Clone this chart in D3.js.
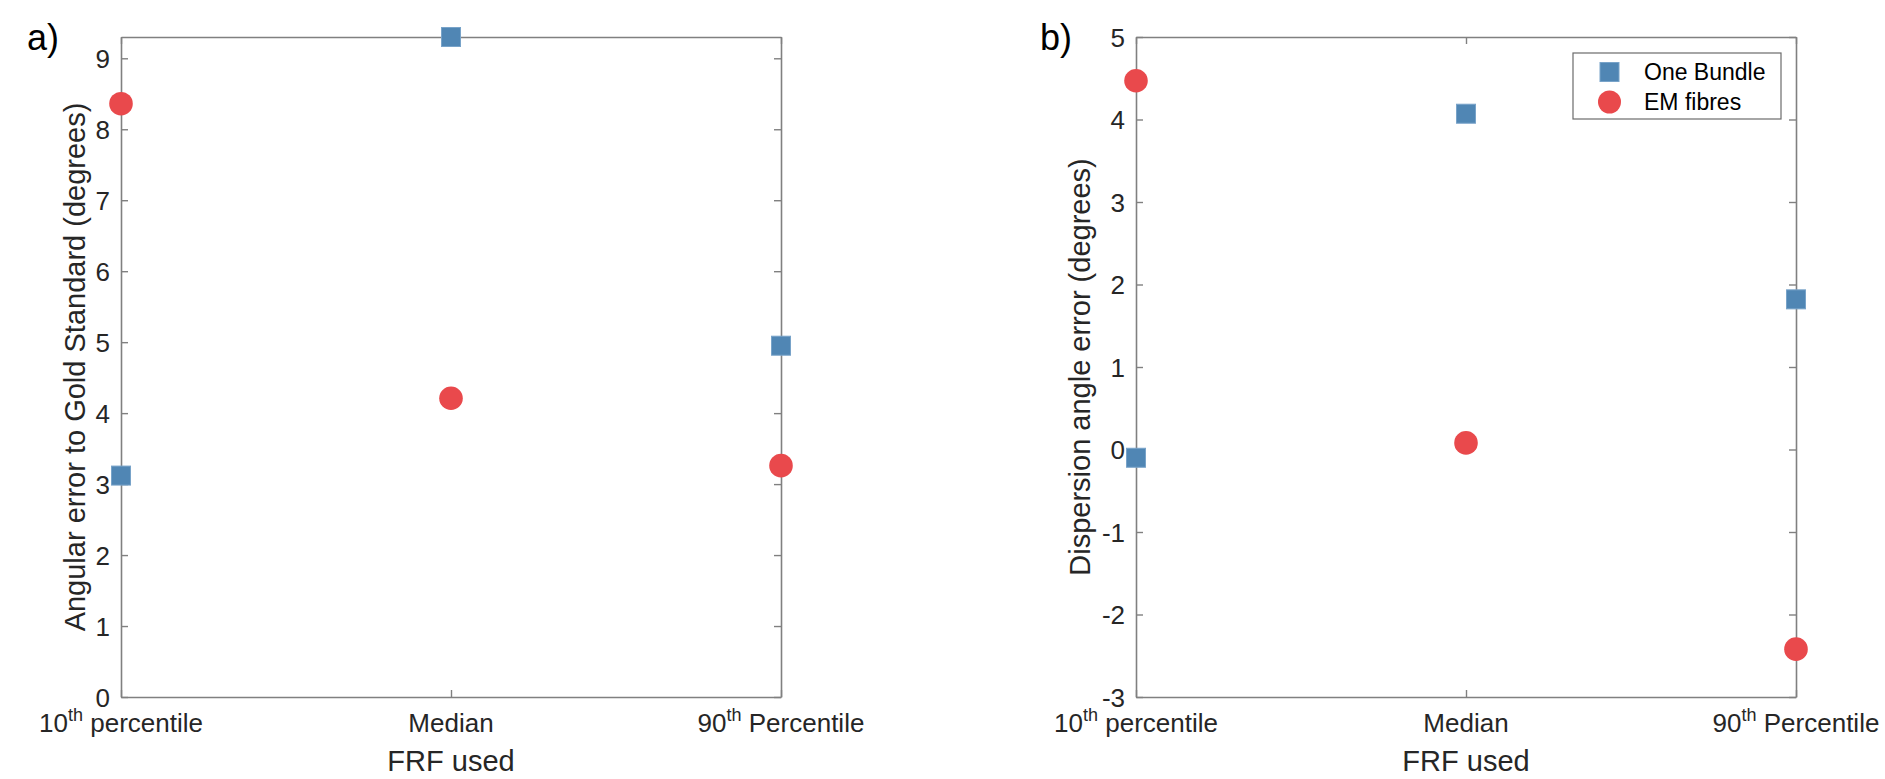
<!DOCTYPE html>
<html>
<head>
<meta charset="utf-8">
<script src="https://cdn.jsdelivr.net/npm/d3@7"></script>
<style>
  body { margin: 0; background: #fff; }
  svg { display: block; font-family: "Liberation Sans", Arial, Helvetica, sans-serif; }
</style>
</head>
<body>
<svg id="chart"></svg>
<script>
// data
const categories = ["10th percentile", "Median", "90th Percentile"];
const seriesNames = ["One Bundle", "EM fibres"];

const angularOneBundle = [3.12, 9.30, 4.95];
const angularEMFibres = [8.36, 4.21, 3.26];
const angularTicks = [0, 1, 2, 3, 4, 5, 6, 7, 8, 9];

const dispersionOneBundle = [-0.10, 4.07, 1.82];
const dispersionEMFibres = [4.47, 0.08, -2.42];
const dispersionTicks = [-3, -2, -1, 0, 1, 2, 3, 4, 5];

var svgWidth = 1885;
var svgHeight = 779;
var blue = "#5086b4";
var red = "#e9494c";
var axisColor = "#808080";
var textColor = "#262626";
var tickFont = 26;
var labelFont = 29;

var svg = d3.select("#chart")
  .attr("width", svgWidth)
  .attr("height", svgHeight);

function drawPanel(opts) {
  var left = opts.left, right = opts.right, top = 37, bottom = 697;

  var x = d3.scalePoint()
    .domain(categories)
    .range([left, right])
    .padding(0);

  var y = d3.scaleLinear()
    .domain(opts.domain)
    .range([bottom, top]);

  var g = svg.append("g");

  // left axis with labels, ticks pointing inward (plain hyphen minus like the original)
  var yAxis = g.append("g")
    .attr("transform", "translate(" + left + ",0)")
    .call(d3.axisLeft(y).tickValues(opts.ticks).tickFormat(function (d) { return String(d); })
      .tickSizeInner(-7).tickSizeOuter(0).tickPadding(11));

  // right, top, bottom: ticks only
  var yAxisR = g.append("g")
    .attr("transform", "translate(" + right + ",0)")
    .call(d3.axisRight(y).tickValues(opts.ticks).tickSizeInner(-7).tickSizeOuter(0).tickFormat(""));

  var xAxisB = g.append("g")
    .attr("transform", "translate(0," + bottom + ")")
    .call(d3.axisBottom(x).tickSizeInner(-7).tickSizeOuter(0).tickFormat(""));

  var xAxisT = g.append("g")
    .attr("transform", "translate(0," + top + ")")
    .call(d3.axisTop(x).tickSizeInner(-7).tickSizeOuter(0).tickFormat(""));

  [yAxis, yAxisR, xAxisB, xAxisT].forEach(function (a) {
    a.select(".domain").attr("stroke", axisColor).attr("stroke-width", 1.6);
    a.selectAll(".tick line").attr("stroke", axisColor).attr("stroke-width", 1.4);
    a.selectAll("text").attr("fill", textColor).style("font-size", tickFont + "px").attr("font-family", null);
  });
  yAxis.selectAll("text").attr("dy", "0.36em");

  // category labels with superscript "th"
  categories.forEach(function (c) {
    var t = g.append("text")
      .attr("x", x(c))
      .attr("y", 732)
      .attr("text-anchor", "middle")
      .attr("fill", textColor)
      .style("font-size", tickFont + "px");
    var m = c.match(/^(\d+)(th)(.*)$/);
    if (m) {
      t.append("tspan").text(m[1]);
      t.append("tspan").attr("dy", -11).style("font-size", "18px").text(m[2]);
      t.append("tspan").attr("dy", 11).text(m[3]);
    } else {
      t.text(c);
    }
  });

  g.append("text")
    .attr("x", (left + right) / 2)
    .attr("y", 771)
    .attr("text-anchor", "middle")
    .attr("fill", textColor)
    .style("font-size", labelFont + "px")
    .text("FRF used");

  g.append("text")
    .attr("transform", "translate(" + opts.labelX + "," + ((top + bottom) / 2) + ") rotate(-90)")
    .attr("text-anchor", "middle")
    .attr("fill", textColor)
    .style("font-size", labelFont + "px")
    .text(opts.yLabel);

  g.append("text")
    .attr("x", opts.letterX)
    .attr("y", 50)
    .attr("fill", "#000")
    .style("font-size", "36px")
    .text(opts.letter);

  // markers
  var sq = 19;
  g.selectAll(".sq")
    .data(opts.oneBundle)
    .enter().append("rect")
    .attr("class", "sq")
    .attr("x", function (d, i) { return x(categories[i]) - sq / 2; })
    .attr("y", function (d) { return y(d) - sq / 2; })
    .attr("width", sq)
    .attr("height", sq)
    .attr("fill", blue)
    .attr("stroke", "#78a3c9")
    .attr("stroke-width", 1);

  g.selectAll(".dot")
    .data(opts.emFibres)
    .enter().append("circle")
    .attr("class", "dot")
    .attr("cx", function (d, i) { return x(categories[i]); })
    .attr("cy", function (d) { return y(d); })
    .attr("r", 11.8)
    .attr("fill", red);

  return g;
}

drawPanel({
  left: 121, right: 781,
  domain: [0, 9.3],
  ticks: angularTicks,
  oneBundle: angularOneBundle,
  emFibres: angularEMFibres,
  yLabel: "Angular error to Gold Standard (degrees)",
  labelX: 85,
  letter: "a)",
  letterX: 27
});

drawPanel({
  left: 1136, right: 1796,
  domain: [-3, 5],
  ticks: dispersionTicks,
  oneBundle: dispersionOneBundle,
  emFibres: dispersionEMFibres,
  yLabel: "Dispersion angle error (degrees)",
  labelX: 1090,
  letter: "b)",
  letterX: 1040
});

// legend
var legend = svg.append("g");
legend.append("rect")
  .attr("x", 1573).attr("y", 53)
  .attr("width", 208).attr("height", 66)
  .attr("fill", "#fff")
  .attr("stroke", "#6b6b6b")
  .attr("stroke-width", 1.2);

seriesNames.forEach(function (name, i) {
  var cy = 72 + i * 30;
  if (i === 0) {
    legend.append("rect")
      .attr("x", 1600).attr("y", cy - 9.5)
      .attr("width", 19).attr("height", 19)
      .attr("fill", blue).attr("stroke", "#78a3c9");
  } else {
    legend.append("circle")
      .attr("cx", 1609.5).attr("cy", cy)
      .attr("r", 11.5)
      .attr("fill", red);
  }
  legend.append("text")
    .attr("x", 1644)
    .attr("y", cy + 8)
    .attr("fill", "#000")
    .style("font-size", "23px")
    .text(name);
});
</script>
</body>
</html>
